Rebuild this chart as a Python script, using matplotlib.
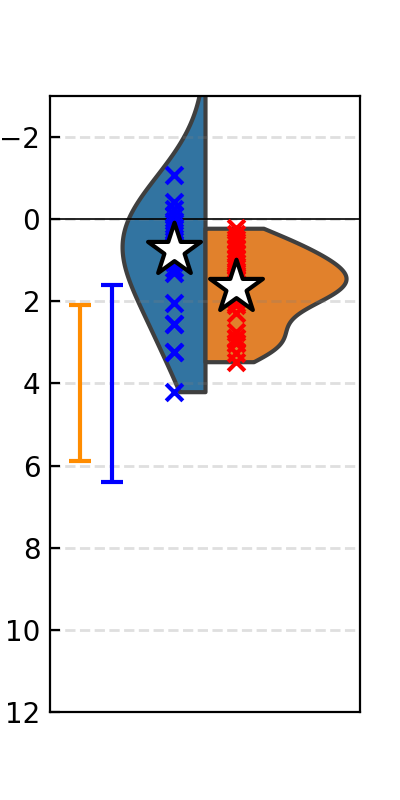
import numpy as np
import matplotlib
matplotlib.use("Agg")
import matplotlib.pyplot as plt

# ---- data ----
blue_values = np.array([-7.5, -1.08, -0.42, -0.25, -0.1, 0.05, 0.18, 0.3, 0.45, 0.6,
                        0.8, 1.05, 1.19, 1.31, 2.05, 2.55, 2.55, 3.23, 3.23, 4.2])
red_values = np.array([0.22, 0.35, 0.48, 0.6, 0.72, 0.84, 0.96, 1.06, 1.15, 1.25, 1.35,
                       1.4, 1.45, 1.55, 1.6, 1.65, 1.75, 1.85, 1.95, 2.05, 2.1, 2.29,
                       2.74, 2.9, 2.9, 3.02, 3.02, 3.27, 3.47])
star_values = [0.75, 1.65]            # blue, red
err_centers = [4.0, 4.0]              # orange bar, blue bar
err_half = [1.9, 2.4]
err_colors = ["darkorange", "blue"]
yticks = [-2, 0, 2, 4, 6, 8, 10, 12]

fill_colors = ["#3274a1", "#e1812c"]
edge_color = "#3f3f3f"
max_half_widths = [0.535, 0.91]       # widest point of each half-violin (x units)


def kde(values, grid):
    n = len(values)
    bw = values.std(ddof=1) * n ** (-1 / 5)
    z = (grid[:, None] - values[None, :]) / bw
    return np.exp(-0.5 * z ** 2).sum(axis=1) / (n * bw * np.sqrt(2 * np.pi))


fig, ax = plt.subplots(figsize=(2, 4), dpi=200)
fig.subplots_adjust(left=0.125, right=0.9, bottom=0.11, top=0.88)

halves = []
for vals, w in zip((blue_values, red_values), max_half_widths):
    g = np.linspace(vals.min(), vals.max(), 400)
    d = kde(vals, g)
    halves.append((g, d / d.max() * w))

# left half (blue)
ax.fill_betweenx(halves[0][0], 0, -halves[0][1], facecolor=fill_colors[0],
                 edgecolor=edge_color, linewidth=1.5, zorder=1)
# right half (orange)
ax.fill_betweenx(halves[1][0], 0, halves[1][1], facecolor=fill_colors[1],
                 edgecolor=edge_color, linewidth=1.5, zorder=1)

ax.grid(axis="y", linestyle="--", color=(0.5, 0.5, 0.5), alpha=0.25, linewidth=1.0, zorder=2)
ax.axhline(0, color="black", linewidth=0.6, zorder=3)

ax.scatter(np.full(len(blue_values), -0.2), blue_values, marker="x", color="blue",
           linewidths=1.5, zorder=4)
ax.scatter(np.full(len(red_values), 0.2), red_values, marker="x", color="red",
           linewidths=1.5, zorder=4)
ax.scatter([-0.2, 0.2], star_values, marker="*", s=400, facecolor="white",
           edgecolor="black", linewidths=1.5, zorder=5)

for xpos, c, h, col in zip([-0.806, -0.6], err_centers, err_half, err_colors):
    ax.errorbar([xpos], [c], yerr=[h], color=col, capsize=4, capthick=1.5,
                linewidth=1.5, fmt="none", zorder=3)

ax.set_xlim(-1, 1)
ax.set_ylim(12, -3)
ax.set_yticks(yticks)
ax.set_xticks([])
ax.tick_params(axis="y", direction="in", labelsize=10)
for s in ax.spines.values():
    s.set_linewidth(0.8)

fig.savefig("out.png", dpi=200)
